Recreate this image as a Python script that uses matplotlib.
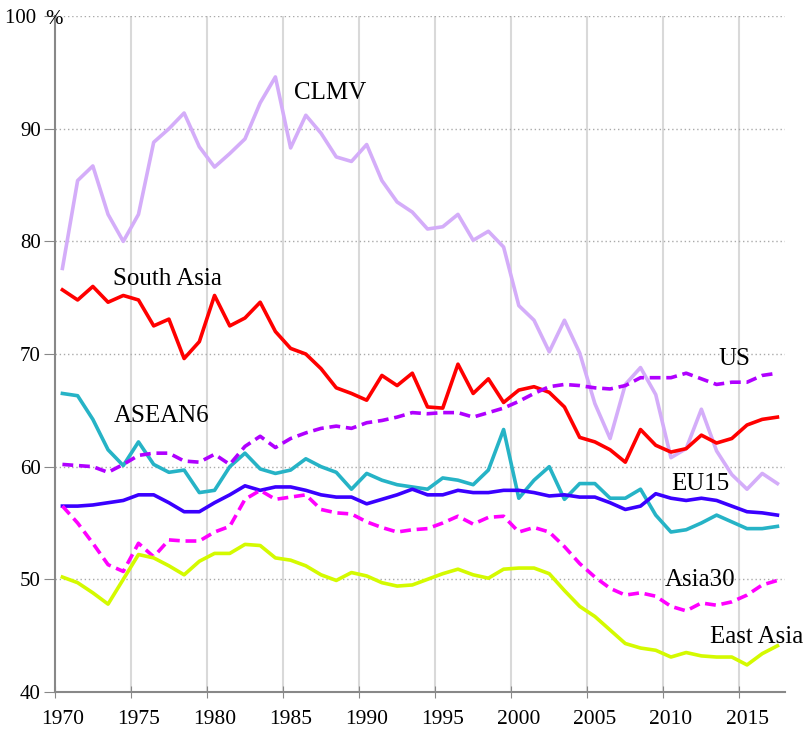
import numpy as np
import matplotlib
matplotlib.use("Agg")
import matplotlib.pyplot as plt

plt.rcParams['font.family'] = ['Liberation Serif', 'DejaVu Serif']

years = np.arange(1970, 2018)

clmv = [77.6, 85.4, 86.7, 82.4, 80.0, 82.4, 88.8, 90.0, 91.4, 88.4,
        86.6, 87.8, 89.1, 92.3, 94.6, 88.3, 91.2, 89.6, 87.5, 87.1,
        88.6, 85.4, 83.5, 82.6, 81.1, 81.3, 82.4, 80.1, 80.9, 79.5,
        74.3, 73.0, 70.2, 73.0, 70.1, 65.6, 62.5, 67.3, 68.8, 66.4,
        60.8, 61.6, 65.1, 61.4, 59.3, 58.0, 59.4, 58.5]
south_asia = [75.7, 74.8, 76.0, 74.6, 75.2, 74.8, 72.5, 73.1, 69.6, 71.1,
              75.2, 72.5, 73.2, 74.6, 72.0, 70.5, 70.0, 68.7, 67.0, 66.5,
              65.9, 68.1, 67.2, 68.3, 65.3, 65.2, 69.1, 66.5, 67.8, 65.7,
              66.8, 67.1, 66.6, 65.3, 62.6, 62.2, 61.5, 60.4, 63.3, 61.9,
              61.3, 61.6, 62.8, 62.1, 62.5, 63.7, 64.2, 64.4]
asean6 = [66.5, 66.3, 64.2, 61.5, 60.1, 62.2, 60.2, 59.5, 59.7, 57.7,
          57.9, 60.0, 61.2, 59.8, 59.4, 59.7, 60.7, 60.0, 59.5, 58.0,
          59.4, 58.8, 58.4, 58.2, 58.0, 59.0, 58.8, 58.4, 59.7, 63.3,
          57.2, 58.8, 60.0, 57.1, 58.5, 58.5, 57.2, 57.2, 58.0, 55.7,
          54.2, 54.4, 55.0, 55.7, 55.1, 54.5, 54.5, 54.7]
us = [60.2, 60.1, 60.0, 59.5, 60.2, 61.0, 61.2, 61.2, 60.5, 60.4,
      61.1, 60.2, 61.8, 62.7, 61.7, 62.5, 63.0, 63.4, 63.6, 63.4,
      63.9, 64.1, 64.4, 64.8, 64.7, 64.8, 64.8, 64.4, 64.8, 65.2,
      65.8, 66.5, 67.1, 67.3, 67.2, 67.0, 66.9, 67.2, 67.9, 67.9,
      67.9, 68.3, 67.8, 67.3, 67.5, 67.5, 68.1, 68.3]
eu15 = [56.5, 56.5, 56.6, 56.8, 57.0, 57.5, 57.5, 56.8, 56.0, 56.0,
        56.8, 57.5, 58.3, 57.9, 58.2, 58.2, 57.9, 57.5, 57.3, 57.3,
        56.7, 57.1, 57.5, 58.0, 57.5, 57.5, 57.9, 57.7, 57.7, 57.9,
        57.9, 57.7, 57.4, 57.5, 57.3, 57.3, 56.8, 56.2, 56.5, 57.6,
        57.2, 57.0, 57.2, 57.0, 56.5, 56.0, 55.9, 55.7]
asia30 = [56.5, 55.0, 53.2, 51.3, 50.7, 53.2, 52.0, 53.5, 53.4, 53.4,
          54.2, 54.7, 57.1, 57.9, 57.1, 57.3, 57.5, 56.2, 55.9, 55.8,
          55.1, 54.6, 54.2, 54.4, 54.5, 55.0, 55.6, 54.9, 55.5, 55.6,
          54.2, 54.6, 54.2, 52.9, 51.4, 50.2, 49.2, 48.6, 48.8, 48.5,
          47.6, 47.2, 47.9, 47.7, 48.0, 48.6, 49.5, 49.9]
east_asia = [50.2, 49.7, 48.8, 47.8, 50.0, 52.2, 51.9, 51.2, 50.4, 51.6,
             52.3, 52.3, 53.1, 53.0, 51.9, 51.7, 51.2, 50.4, 49.9, 50.6,
             50.3, 49.7, 49.4, 49.5, 50.0, 50.5, 50.9, 50.4, 50.1, 50.9,
             51.0, 51.0, 50.5, 49.0, 47.6, 46.7, 45.5, 44.3, 43.9, 43.7,
             43.1, 43.5, 43.2, 43.1, 43.1, 42.4, 43.4, 44.1]

fig = plt.figure(figsize=(8.06, 7.33), dpi=100)
ax = fig.add_axes([0.068, 0.056, 0.906, 0.922])

x = years + 0.5  # points sit in the middle of each year slot
lw = 2.6
ax.plot(x, clmv, color='#d4adf9', lw=lw, zorder=3)
ax.plot(x, south_asia, color='#ff0000', lw=lw, zorder=3)
ax.plot(x, asean6, color='#26b3c6', lw=lw, zorder=3)
ax.plot(x, us, color='#b000ff', lw=lw, dashes=(3, 1.6), zorder=3)
ax.plot(x, eu15, color='#3a00ff', lw=lw, zorder=3)
ax.plot(x, asia30, color='#ff00ff', lw=lw, dashes=(3, 1.6), zorder=3)
ax.plot(x, east_asia, color='#d4fa00', lw=lw, zorder=3)

ax.set_xlim(1970, 2018)
ax.set_ylim(40, 100)

# grid
for yr in range(1975, 2020, 5):
    ax.axvline(yr, color='#d9d9d9', lw=1.5, zorder=1)
for v in range(50, 101, 10):
    ax.axhline(v, color='#aaaaaa', lw=1, ls=(0, (1, 2)), zorder=1)

ax.set_xticks(range(1970, 2016, 5))
ax.set_xticklabels([])
ax.set_xticks(np.arange(1970.5, 2016, 5), minor=True)
ax.set_xticklabels([str(y) for y in range(1970, 2016, 5)], minor=True)
ax.tick_params(axis='x', which='minor', length=0, labelsize=15.5, pad=13)
ax.tick_params(axis='x', which='major', length=8, direction='inout', color='#888888')
ax.set_yticks(range(40, 101, 10))
ax.set_yticklabels(['40', '50', '60', '70', '80', '90', '100 '])
ax.tick_params(axis='y', length=8, color='#888888', labelsize=15, pad=2)

for s in ['top', 'right']:
    ax.spines[s].set_visible(False)
for s in ['left', 'bottom']:
    ax.spines[s].set_color('#888888')
    ax.spines[s].set_linewidth(1.5)

ax.text(1969.95, 99.7, '%', fontsize=15, ha='center', va='center', zorder=5, clip_on=False)

fs = 18
ax.text(1988.1, 93.2, 'CLMV', fontsize=fs, ha='center', va='center')
ax.text(1977.4, 76.7, 'South Asia', fontsize=fs, ha='center', va='center')
ax.text(1977.0, 64.5, 'ASEAN6', fontsize=fs, ha='center', va='center')
ax.text(2014.7, 69.6, 'US', fontsize=fs, ha='center', va='center')
ax.text(2012.4, 58.5, 'EU15', fontsize=fs, ha='center', va='center')
ax.text(2012.4, 49.9, 'Asia30', fontsize=fs, ha='center', va='center')
ax.text(2016.1, 44.9, 'East Asia', fontsize=fs, ha='center', va='center')

plt.savefig('out.png', dpi=100)
